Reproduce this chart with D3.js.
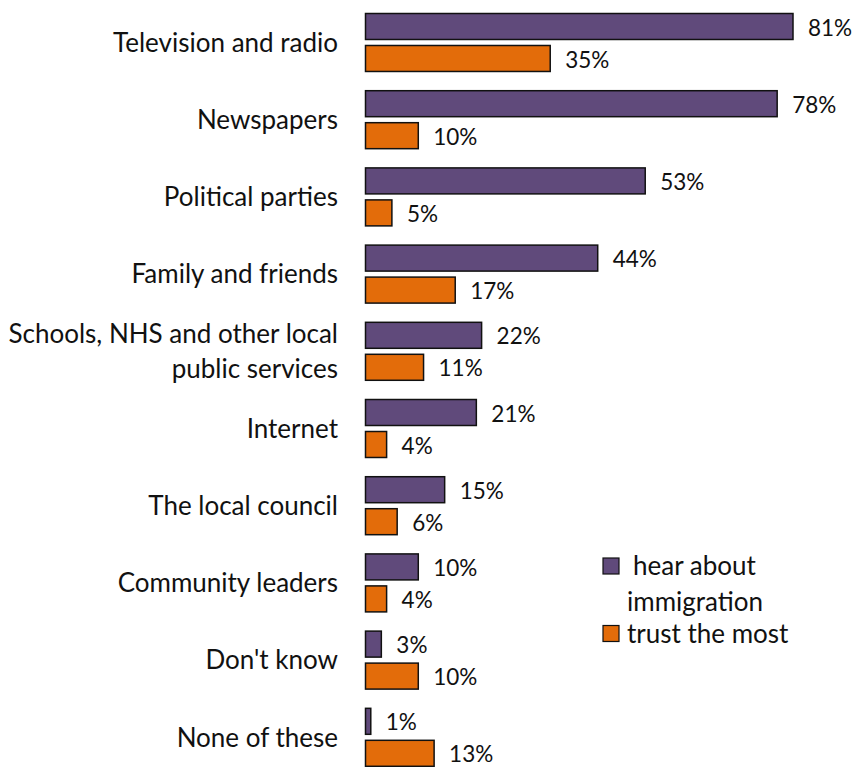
<!DOCTYPE html>
<html>
<head>
<meta charset="utf-8">
<script src="https://cdn.jsdelivr.net/npm/d3@7"></script>
<style>
  html, body { margin: 0; padding: 0; background: #fff; }
  svg text { font-family: Lato, "Open Sans", sans-serif; fill: #111; }
</style>
</head>
<body>
<svg id="chart" width="853" height="767"></svg>
<script>
// Where people hear about immigration vs. which source they trust the most
const categories = [
  ["Television and radio"],
  ["Newspapers"],
  ["Political parties"],
  ["Family and friends"],
  ["Schools, NHS and other local", "public services"],
  ["Internet"],
  ["The local council"],
  ["Community leaders"],
  ["Don't know"],
  ["None of these"]
];
const hearAbout = [81, 78, 53, 44, 22, 21, 15, 10, 3, 1];
const trustMost = [35, 10, 5, 17, 11, 4, 6, 4, 10, 13];
const seriesNames = ["hear about immigration", "trust the most"];
const seriesColors = ["#604A7B", "#E36C0A"];

const svg = d3.select("#chart");
const keys = categories.map(c => c.join(" "));

const x = d3.scaleLinear().domain([0, 81]).range([365.5, 793]);
const y0 = d3.scaleBand().domain(keys).range([13.5, 766.3]).paddingInner(0.249).paddingOuter(0);
const y1 = d3.scaleBand().domain(seriesNames).range([0, y0.bandwidth()]).paddingInner(0.1875);

const rows = keys.map((k, i) => ({ key: k, lines: categories[i], values: [hearAbout[i], trustMost[i]] }));

const group = svg.selectAll("g.row").data(rows).join("g")
  .attr("class", "row")
  .attr("transform", d => `translate(0,${y0(d.key)})`);

group.selectAll("rect").data(d => d.values.map((v, j) => ({ v, s: seriesNames[j], j }))).join("rect")
  .attr("x", x(0))
  .attr("y", d => y1(d.s))
  .attr("width", d => x(d.v) - x(0))
  .attr("height", y1.bandwidth())
  .attr("fill", d => seriesColors[d.j])
  .attr("stroke", "#111")
  .attr("stroke-width", 1.5);

group.selectAll("text.val").data(d => d.values.map((v, j) => ({ v, s: seriesNames[j] }))).join("text")
  .attr("class", "val")
  .attr("x", d => x(d.v) + 15)
  .attr("y", d => y1(d.s) + y1.bandwidth() / 2 + 1)
  .attr("dy", "0.36em")
  .attr("font-size", 22.5)
  .text(d => d.v + "%");

// Category labels, right-aligned against the bars
group.each(function (d) {
  const t = d3.select(this).append("text")
    .attr("class", "cat")
    .attr("text-anchor", "end")
    .attr("x", 338)
    .attr("font-size", 26);
  const mid = y0.bandwidth() / 2;
  const lh = 35;
  d.lines.forEach((line, i) => {
    t.append("tspan")
      .attr("x", 338)
      .attr("y", mid + (i - (d.lines.length - 1) / 2) * lh)
      .attr("dy", "0.36em")
      .text(line);
  });
});

// Legend
const legend = svg.append("g").attr("transform", "translate(603,0)");
const legendItems = [
  { lines: ["hear about", "immigration"], color: seriesColors[0], y: 566 },
  { lines: ["trust the most"], color: seriesColors[1], y: 633.5 }
];
legendItems.forEach(item => {
  legend.append("rect")
    .attr("x", 0).attr("y", item.y - 8)
    .attr("width", 16).attr("height", 16)
    .attr("fill", item.color).attr("stroke", "#111").attr("stroke-width", 1.2);
  item.lines.forEach((line, i) => {
    legend.append("text")
      .attr("x", i === 0 && item.lines.length > 1 ? 30 : 24)
      .attr("y", item.y + i * 36)
      .attr("dy", "0.36em")
      .attr("font-size", 26)
      .text(line);
  });
});
</script>
</body>
</html>
